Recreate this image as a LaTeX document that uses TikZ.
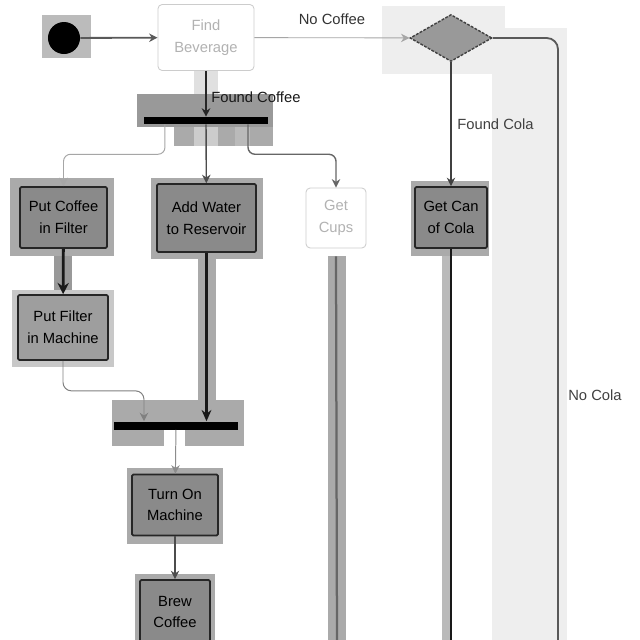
\documentclass[tikz,border=0pt]{standalone}
\usepackage{fontspec}
\setmainfont{Liberation Sans}
\usetikzlibrary{shapes.geometric,arrows.meta}
\definecolor{halo}{HTML}{AAAAAA}
\definecolor{halolight}{HTML}{C8C8C8}
\definecolor{pale}{HTML}{EEEEEE}
\definecolor{boxfill}{HTML}{8A8A8A}
\begin{document}
\begin{tikzpicture}[x=0.025cm,y=-0.025cm,
  txt/.style={font=\fontsize{10.5}{15.5}\selectfont,align=center,inner sep=0pt},
  act/.style={txt,draw=black!85,line width=1.2pt,fill=boxfill,rounded corners=1pt},
  faded/.style={txt,draw=black!20,line width=0.6pt,fill=white,text=black!30,rounded corners=3pt},
  bar/.style={fill=black,draw=none,inner sep=0pt},
  tip/.style={-{Stealth[length=6pt,width=6pt]}},
  flow/.style={tip,draw=black!70,line width=1pt},
  lbl/.style={font=\fontsize{10.5}{12}\selectfont,inner sep=0pt}]
\useasboundingbox (0,0) rectangle (640,640);
\fill[white] (0,0) rectangle (640,640);

% shaded bands behind the flow
\fill[pale] (382,6) rectangle (505,74);
\fill[pale] (492,28) rectangle (567,640);
\fill[halo!80!white] (42,15) rectangle (91,58);
\fill[black!12] (194,70) rectangle (218,94);
\fill[black!40] (137,94) rectangle (273,127);
\fill[halo] (174,127) rectangle (273,146);
\fill[black!20] (194,127) rectangle (218,146);
\fill[black!27] (235,127) rectangle (250,146);
\fill[halo] (10,178) rectangle (114,256);
\fill[halo] (151,178) rectangle (263,259);
\fill[black!40] (54,256) rectangle (72,290);
\fill[halolight] (12,290) rectangle (114,367);
\fill[halo] (198,259) rectangle (216,418);
\fill[halo] (328,256) rectangle (346,640);
\fill[halo] (411,181) rectangle (489,256);
\fill[black!27] (442,256) rectangle (451,640);
\fill[halo] (112,400) rectangle (244,446);
\fill[white] (164,430) rectangle (185,446);
\fill[halo] (127,468) rectangle (223,544);
\fill[halo] (135,574) rectangle (215,640);

% nodes
\node[circle,fill=black,minimum size=0.8cm,inner sep=0pt] (init) at (64,38) {};
\node[faded,minimum width=2.4cm,minimum height=1.65cm] (find) at (206,37.5) {Find\\Beverage};
\node[diamond,draw=black!75,line width=1pt,dash pattern=on 2pt off 1pt,fill=black!40,
      minimum width=2.05cm,minimum height=1.175cm,inner sep=0pt] (dec) at (451,38) {};
\node[bar,minimum width=3.1cm,minimum height=0.175cm] (fork) at (206,120.5) {};
\node[act,minimum width=2.175cm,minimum height=1.525cm] (putc) at (63.5,217.5) {Put Coffee\\in Filter};
\node[act,minimum width=2.475cm,minimum height=1.7cm] (addw) at (206.5,218) {Add Water\\to Reservoir};
\node[faded,minimum width=1.5cm,minimum height=1.5cm] (cups) at (336,218) {Get\\Cups};
\node[act,minimum width=1.8cm,minimum height=1.525cm] (getcan) at (451,217.5) {Get Can\\of Cola};
\node[act,fill=black!38,minimum width=2.25cm,minimum height=1.625cm] (filt) at (63,327.5) {Put Filter\\in Machine};
\node[bar,minimum width=3.1cm,minimum height=0.2cm] (join) at (176,425.5) {};
\node[act,minimum width=2.15cm,minimum height=1.525cm] (turn) at (175,505) {Turn On\\Machine};
\node[act,minimum width=1.75cm,minimum height=1.6cm] (brew) at (175,612) {Brew\\Coffee};

\coordinate (cupsend) at (337,645);
\coordinate (colaend) at (451,645);
\coordinate (nocolaend) at (558,645);

% connectors
\draw[flow,draw=black!65,line width=1.3pt] (init) -- (find);
\draw[tip,draw=black!35,line width=0.6pt] (find) -- node[lbl,above=9pt,text=black!80,pos=0.5] {No Coffee} (dec);
\draw[flow,draw=black!85] (find) -- (fork);
\node[lbl,text=black!90,anchor=west] (fc) at (211,97) {Found Coffee};
\draw[tip,draw=black!35,line width=0.7pt,rounded corners=5pt] ([xshift=-1.025cm]fork.south) -- ++(0,30) -| (putc.north);
\draw[flow,draw=black!70] (fork) -- (addw);
\draw[flow,draw=black!60,rounded corners=5pt] ([xshift=1.05cm]fork.south) -- ++(0,30) -| (cups.north);
\draw[-{Stealth[length=8pt,width=8pt]},draw=black!90,line width=2pt] (putc) -- (filt);
\draw[tip,draw=black!50,line width=0.7pt,rounded corners=6pt] (filt.south) -- ++(0,30) -| ([xshift=-0.8cm]join.north);
\draw[-{Stealth[length=8pt,width=7pt]},draw=black!90,line width=2pt] (addw.south) -- (addw.south |- join.north);
\draw[tip,draw=black!45,line width=0.7pt] (join) -- (turn);
\draw[flow,draw=black!70] (turn) -- (brew);
\draw[black!60,line width=1.6pt] ([yshift=-0.2cm]cups.south) -- (cupsend);
\draw[flow,draw=black!75] (dec) -- node[lbl,text=black!75,right=4pt,pos=0.5] {Found Cola} (getcan);
\draw[black!90,line width=1.8pt] (getcan) -- (colaend);
\draw[draw=black!65,line width=1.3pt,rounded corners=8pt] (dec.east) -| (nocolaend);
\node[lbl,text=black!75] (nocola) at (595,395) {No Cola};
\end{tikzpicture}
\end{document}
